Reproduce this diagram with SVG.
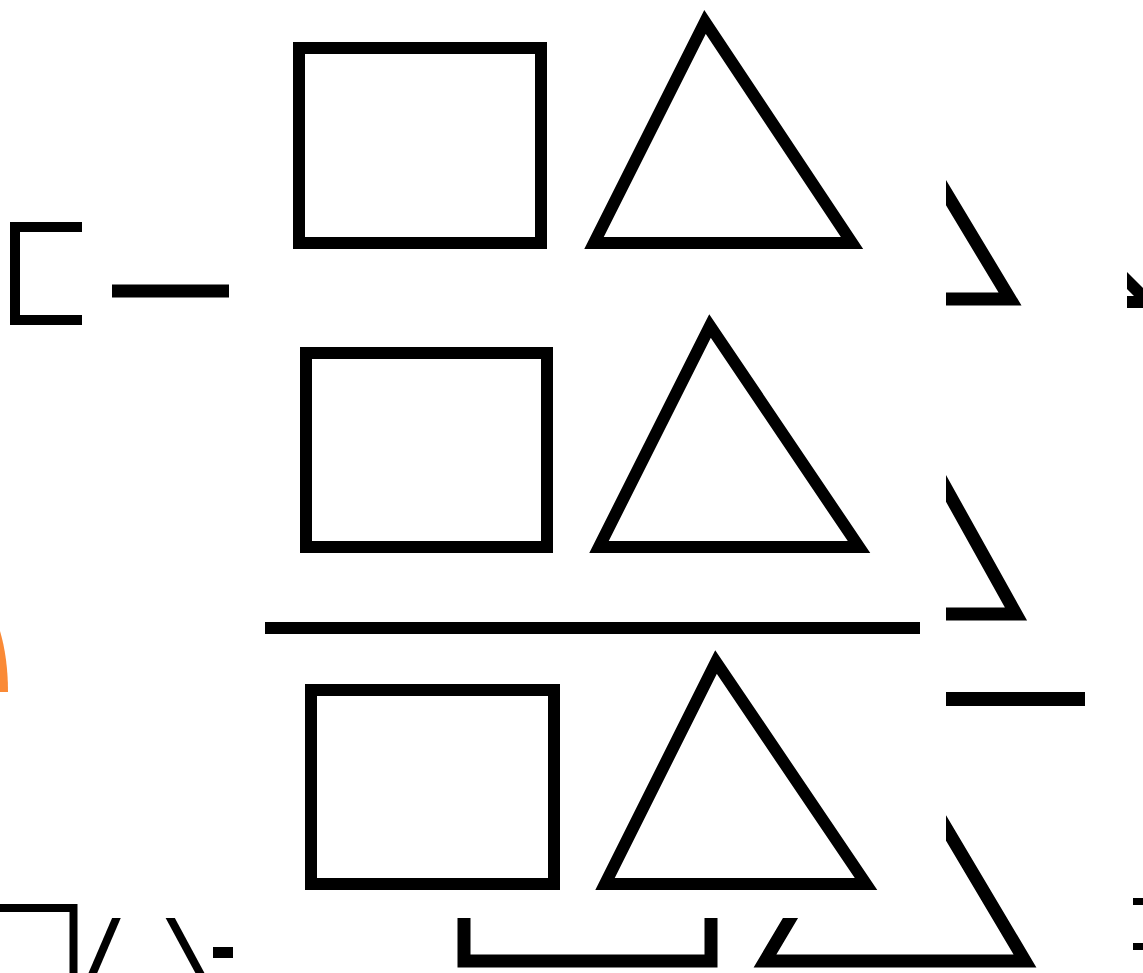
<svg xmlns="http://www.w3.org/2000/svg" width="1143" height="973" viewBox="0 0 1143 973">
  <style>
    .s { fill: none; stroke: #000; stroke-linejoin: miter; stroke-miterlimit: 10; stroke-linecap: butt; }
    .f { stroke-width: 12; }
    .b { stroke-width: 13; }
  </style>
  <defs>
    <clipPath id="outside">
      <path clip-rule="evenodd" d="M0,0 H1143 V973 H0 Z M82,0 H946 V918 H82 Z"/>
    </clipPath>
  </defs>
  <rect width="1143" height="973" fill="#fff"/>

  <g id="background" clip-path="url(#outside)">
    <path class="s" style="stroke-width:10" d="M120,227 L15,227 L15,320 L120,320"/>
    <path class="s b" d="M830,0 L1010,299 L850,299"/>
    <path class="s b" d="M880,370 L1016,614 L880,614"/>
    <line class="s" style="stroke-width:14" x1="900" y1="699" x2="1085" y2="699"/>
    <path class="s b" d="M895,742 L1025,961 L765,961 Z"/>
    <rect class="s b" x="464" y="750" width="247" height="211"/>
    <rect class="s" style="stroke-width:8" x="-20" y="908" width="93.5" height="120"/>
    <line class="s" style="stroke-width:8" x1="119" y1="912" x2="92" y2="975"/>
    <line class="s" style="stroke-width:8" x1="167" y1="912" x2="201" y2="975"/>
    <line class="s" style="stroke-width:11" x1="213" y1="952.5" x2="233" y2="952.5"/>
    <path d="M1127,272 L1143,288 L1143,308 L1127,308 L1127,296 L1134,296 L1127,289 Z" fill="#000"/>
    <rect x="1133" y="898" width="10" height="7" fill="#000"/>
    <rect x="1133" y="943" width="10" height="7" fill="#000"/>
  </g>

  <g id="dash">
    <line class="s" style="stroke-width:13" x1="112" y1="291" x2="229" y2="291"/>
  </g>

  <g id="orange-arc">
    <path d="M0,631 C5,648 8,668 8,692 L0,692 Z" fill="#FA8A36"/>
  </g>

  <g id="numerator-row1">
    <rect class="s f" x="299" y="48" width="242" height="195"/>
    <path class="s f" d="M705,22 L594,243 L852,243 Z"/>
  </g>
  <g id="numerator-row2">
    <rect class="s f" x="306" y="353" width="241" height="194"/>
    <path class="s f" d="M710,326 L599,547 L859,547 Z"/>
  </g>
  <g id="fraction-bar">
    <line class="s" style="stroke-width:12" x1="265" y1="628" x2="920" y2="628"/>
  </g>
  <g id="denominator">
    <rect class="s f" x="311" y="690" width="243" height="194"/>
    <path class="s f" d="M716,662 L605,884 L866,884 Z"/>
  </g>
</svg>
